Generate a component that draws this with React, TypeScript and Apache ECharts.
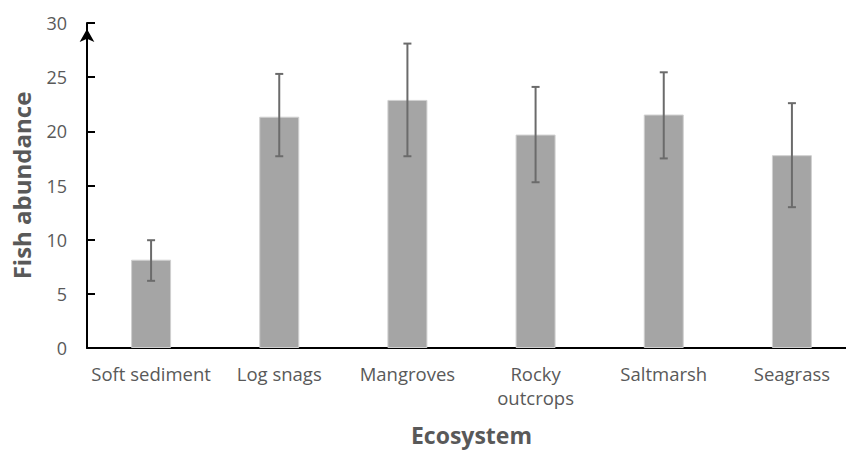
import React, { useEffect, useRef } from "react";
import * as echarts from "echarts";

const categories = ["Soft sediment", "Log snags", "Mangroves", "Rocky\noutcrops", "Saltmarsh", "Seagrass"];
const means = [8.15, 21.35, 22.9, 19.7, 21.55, 17.8];
const errLow = [6.2, 17.7, 17.7, 15.3, 17.5, 13.0];
const errHigh = [9.95, 25.3, 28.1, 24.1, 25.45, 22.6];
const yTicks = { min: 0, max: 30, interval: 5 };

const FONT = "'Open Sans', sans-serif";
const GREY = "#595959";

export default function App() {
  const ref = useRef<HTMLDivElement>(null);
  useEffect(() => {
    if (!ref.current) return;
    const chart = echarts.init(ref.current, undefined, { renderer: "svg" });
    const errData = categories.map((_, i) => [i, errLow[i], errHigh[i]]);
    chart.setOption({
      animation: false,
      grid: { left: 87, top: 23, width: 769, height: 325, outerBoundsMode: "none", containLabel: false },
      xAxis: {
        type: "category",
        data: categories,
        axisLine: { lineStyle: { color: "#000", width: 2 } },
        axisTick: { show: false },
        axisLabel: { color: GREY, fontFamily: FONT, fontSize: 18.5, lineHeight: 24, margin: 13, interval: 0 },
        name: "Ecosystem",
        nameLocation: "middle",
        nameGap: 75,
        nameTextStyle: { color: GREY, fontFamily: FONT, fontSize: 23, fontWeight: "bold" },
      },
      yAxis: {
        type: "value",
        min: yTicks.min,
        max: yTicks.max,
        interval: yTicks.interval,
        splitLine: { show: false },
        axisLine: {
          show: true,
          lineStyle: { color: "#000", width: 2 },
          symbol: ["none", "arrow"],
          symbolSize: [11, 13],
          symbolOffset: [0, -6],
        },
        axisTick: { show: true, inside: true, length: 8, lineStyle: { color: "#000", width: 2 } },
        axisLabel: { color: GREY, fontFamily: FONT, fontSize: 18, margin: 20 },
        name: "Fish abundance",
        nameLocation: "middle",
        nameGap: 54,
        nameTextStyle: { color: GREY, fontFamily: FONT, fontSize: 24, fontWeight: "bold" },
      },
      series: [
        {
          type: "bar",
          data: means,
          barWidth: 40,
          itemStyle: { color: "#a5a5a5", borderColor: "#d0d0d0", borderWidth: 1 },
        },
        {
          type: "custom",
          data: errData,
          z: 10,
          renderItem: (params: any, api: any) => {
            const x = api.value(0);
            const lo = api.coord([x, api.value(1)]);
            const hi = api.coord([x, api.value(2)]);
            const cap = 4;
            const style = { stroke: "#6b6b6b", lineWidth: 2 };
            return {
              type: "group",
              children: [
                { type: "line", shape: { x1: hi[0], y1: hi[1], x2: lo[0], y2: lo[1] }, style },
                { type: "line", shape: { x1: hi[0] - cap, y1: hi[1], x2: hi[0] + cap, y2: hi[1] }, style },
                { type: "line", shape: { x1: lo[0] - cap, y1: lo[1], x2: lo[0] + cap, y2: lo[1] }, style },
              ],
            };
          },
        },
      ],
    });
    return () => chart.dispose();
  }, []);
  return <div ref={ref} style={{ position: "absolute", left: 0, top: 0, width: 846, height: 451 }} />;
}
